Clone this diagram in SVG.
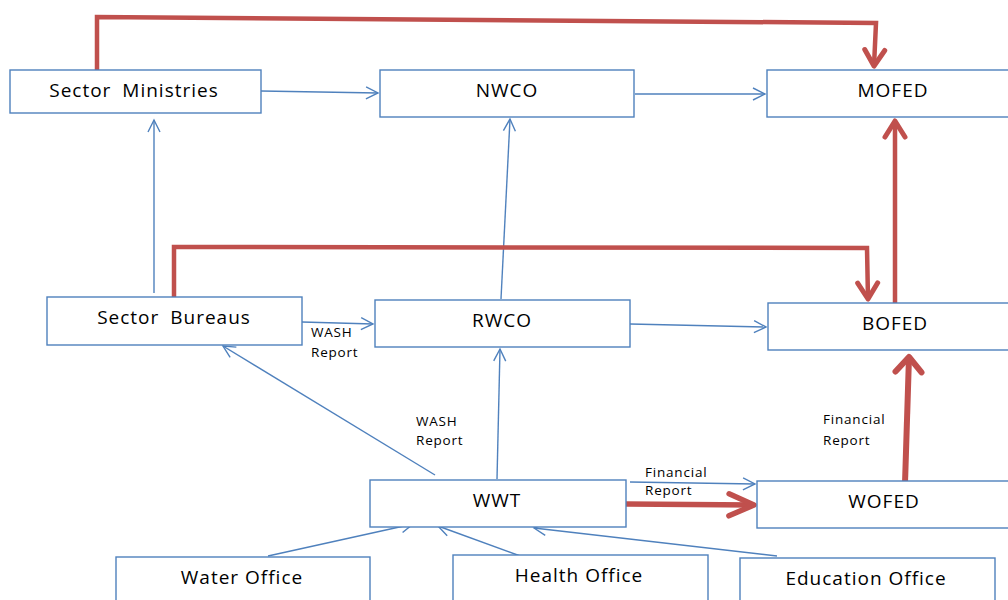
<svg xmlns="http://www.w3.org/2000/svg" width="1008" height="600" viewBox="0 0 1008 600">
  <style>
    .box { fill: #ffffff; stroke: #4f81bd; stroke-width: 1.4; }
    .lbl { font-family: "Open Sans", "Liberation Sans", sans-serif; font-size: 19px; fill: #000; text-anchor: middle; letter-spacing: 1px; }
    .wide { word-spacing: 5px; }
    .note { font-family: "Open Sans", "Liberation Sans", sans-serif; font-size: 13.5px; fill: #000; letter-spacing: 0.8px; }
    .flow { fill: none; stroke: #4f81bd; stroke-width: 1.4; marker-end: url(#openArrow); }
    .fin { fill: none; stroke: #c0504d; stroke-linejoin: miter; }
  </style>
  <defs>
    <marker id="openArrow" markerUnits="userSpaceOnUse" markerWidth="16" markerHeight="16" refX="13" refY="7" orient="auto" overflow="visible">
      <path d="M1,1 L13,7 L1,13" fill="none" stroke="#4f81bd" stroke-width="1.4"/>
    </marker>
    <marker id="redArrow" markerUnits="userSpaceOnUse" markerWidth="24" markerHeight="24" refX="17" refY="12" orient="auto" overflow="visible">
      <path d="M1,2 L17,12 L1,22" fill="none" stroke="#c0504d" stroke-width="5" stroke-linecap="round" stroke-linejoin="round"/>
    </marker>
    <marker id="redArrowWide" markerUnits="userSpaceOnUse" markerWidth="30" markerHeight="26" refX="26" refY="12" orient="auto" overflow="visible">
      <path d="M1,1 L26,12 L1,23" fill="none" stroke="#c0504d" stroke-width="5.5" stroke-linecap="round" stroke-linejoin="round"/>
    </marker>
    <marker id="redArrowBig" markerUnits="userSpaceOnUse" markerWidth="26" markerHeight="30" refX="16" refY="14" orient="auto" overflow="visible">
      <path d="M1,1 L16,14 L1,27" fill="none" stroke="#c0504d" stroke-width="6" stroke-linecap="round" stroke-linejoin="round"/>
    </marker>
  </defs>

  <!-- connectors -->
  <g id="connectors">
    <!-- reporting flows -->
    <path class="flow" d="M261,91 L378,93"/>
    <path class="flow" d="M635,94 L765,94"/>
    <path class="flow" d="M302,322 L373,324"/>
    <path class="flow" d="M630,324 L766,327"/>
    <path class="flow" d="M154,293 L154,120"/>
    <path class="flow" d="M501,299 L510,119"/>
    <path class="flow" d="M497,479 L500,349"/>
    <path class="flow" d="M435,475 L223,346"/>
    <path class="flow" d="M630,482 L755,484"/>
    <path class="flow" d="M268,556 L413,524"/>
    <path class="flow" d="M523,557 L438,526"/>
    <path class="flow" d="M777,556 L534,528"/>

    <!-- financial flows -->
    <path class="fin" stroke-width="4.5" d="M97,70 L97,17 L876,23 L874,66" marker-end="url(#redArrow)"/>
    <path class="fin" stroke-width="4.5" d="M174,297 L174,247 L867,248 L868,299" marker-end="url(#redArrow)"/>
    <path class="fin" stroke-width="4.5" d="M895,303 L895,121" marker-end="url(#redArrow)"/>
    <path class="fin" stroke-width="6" d="M905,483 L909,357" marker-end="url(#redArrowBig)"/>
    <path class="fin" stroke-width="5.5" d="M626,504 L754,505" marker-end="url(#redArrowWide)"/>

    <!-- flow labels -->
    <text class="note" x="311" y="337">WASH</text>
    <text class="note" x="311" y="357">Report</text>
    <text class="note" x="416" y="426">WASH</text>
    <text class="note" x="416" y="445">Report</text>
    <text class="note" x="645" y="477">Financial</text>
    <text class="note" x="645" y="495">Report</text>
    <text class="note" x="823" y="424">Financial</text>
    <text class="note" x="823" y="445">Report</text>
  </g>

  <!-- federal level -->
  <g id="sector-ministries">
    <rect class="box" x="10" y="70" width="251" height="43"/>
    <text class="lbl wide" x="134" y="97">Sector Ministries</text>
  </g>
  <g id="nwco">
    <rect class="box" x="380" y="70" width="254" height="47"/>
    <text class="lbl" x="507" y="97">NWCO</text>
  </g>
  <g id="mofed">
    <rect class="box" x="767" y="70" width="250" height="47"/>
    <text class="lbl" x="893" y="97">MOFED</text>
  </g>

  <!-- regional level -->
  <g id="sector-bureaus">
    <rect class="box" x="47" y="297" width="255" height="48"/>
    <text class="lbl wide" x="174" y="324">Sector Bureaus</text>
  </g>
  <g id="rwco">
    <rect class="box" x="375" y="300" width="255" height="47"/>
    <text class="lbl" x="502" y="327">RWCO</text>
  </g>
  <g id="bofed">
    <rect class="box" x="768" y="303" width="250" height="47"/>
    <text class="lbl" x="895" y="330">BOFED</text>
  </g>

  <!-- woreda level -->
  <g id="wwt">
    <rect class="box" x="370" y="480" width="256" height="47"/>
    <text class="lbl" x="497" y="507">WWT</text>
  </g>
  <g id="wofed">
    <rect class="box" x="757" y="481" width="260" height="47"/>
    <text class="lbl" x="884" y="508">WOFED</text>
  </g>

  <!-- sector offices -->
  <g id="water-office">
    <rect class="box" x="116" y="557" width="254" height="60"/>
    <text class="lbl" x="242" y="584">Water Office</text>
  </g>
  <g id="health-office">
    <rect class="box" x="453" y="555" width="255" height="60"/>
    <text class="lbl" x="579" y="582">Health Office</text>
  </g>
  <g id="education-office">
    <rect class="box" x="740" y="558" width="255" height="60"/>
    <text class="lbl" x="866" y="585">Education Office</text>
  </g>
</svg>
